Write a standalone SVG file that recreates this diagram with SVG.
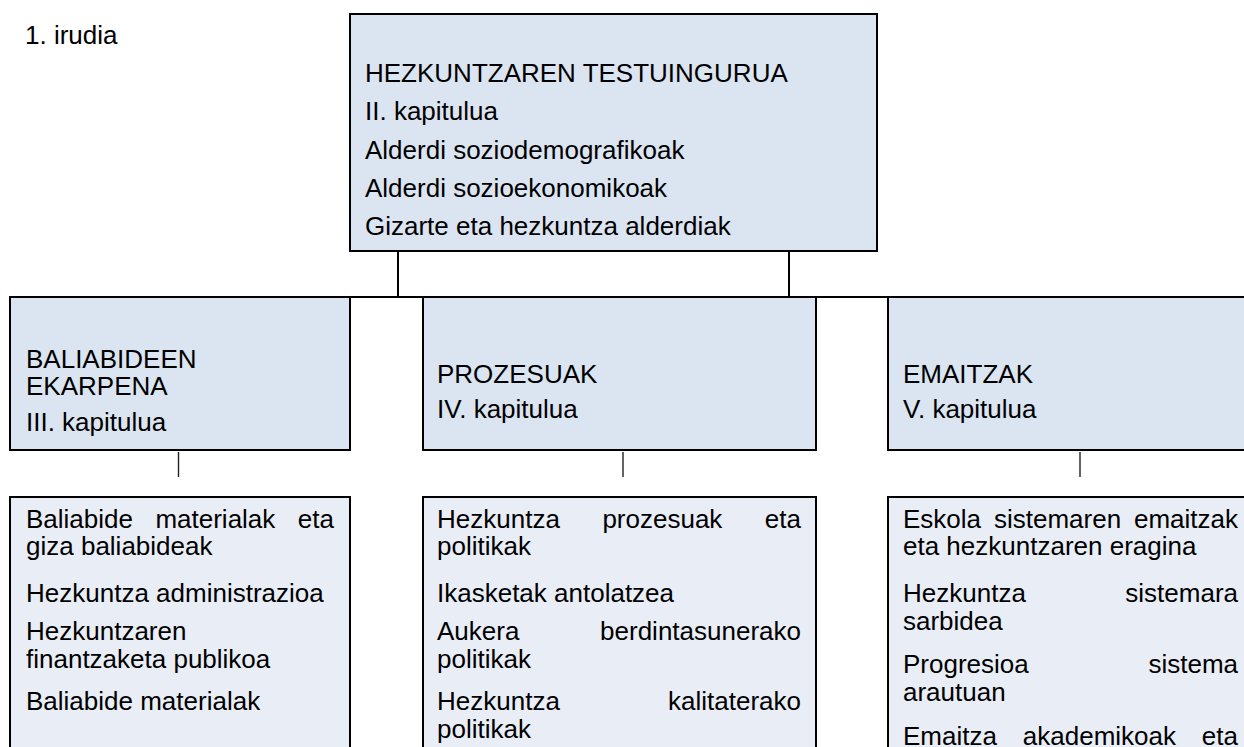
<svg xmlns="http://www.w3.org/2000/svg" width="1244" height="747" viewBox="0 0 1244 747">
<style>
text{font-family:"Liberation Sans",Arial,sans-serif;font-size:26px;fill:#000}
.hb{fill:#DBE5F1;stroke:#000;stroke-width:2}
.lb{fill:#E9EEF6;stroke:#000;stroke-width:2}
.c{stroke:#000;stroke-width:2;fill:none}
.cs{stroke:#222;stroke-width:1.4;fill:none}
.e{text-anchor:end}
</style>
<rect width="1244" height="747" fill="#fff"/>
<text x="25" y="44">1. irudia</text>
<g id="connectors">
<line class="c" x1="398" y1="251" x2="398" y2="297"/>
<line class="c" x1="789" y1="251" x2="789" y2="297"/>
<line class="c" x1="10" y1="297" x2="1250" y2="297"/>
<line class="cs" x1="178.5" y1="452" x2="178.5" y2="477"/>
<line class="cs" x1="623" y1="452" x2="623" y2="477"/>
<line class="cs" x1="1080" y1="452" x2="1080" y2="477"/>
</g>
<g id="node-context">
<rect class="hb" x="350" y="14" width="527" height="237"/>
<text x="365" y="82">HEZKUNTZAREN TESTUINGURUA</text>
<text x="365" y="120">II. kapitulua</text>
<text x="365" y="159">Alderdi soziodemografikoak</text>
<text x="365" y="197">Alderdi sozioekonomikoak</text>
<text x="365" y="235">Gizarte eta hezkuntza alderdiak</text>
</g>
<g id="node-resources">
<rect class="hb" x="10" y="297" width="340" height="153"/>
<text x="26" y="368">BALIABIDEEN</text>
<text x="26" y="395">EKARPENA</text>
<text x="26" y="431">III. kapitulua</text>
</g>
<g id="node-processes">
<rect class="hb" x="423" y="297" width="393" height="153"/>
<text x="437" y="383">PROZESUAK</text>
<text x="437" y="418">IV. kapitulua</text>
</g>
<g id="node-results">
<rect class="hb" x="888" y="297" width="362" height="153"/>
<text x="903" y="383">EMAITZAK</text>
<text x="903" y="418">V. kapitulua</text>
</g>
<g id="node-resources-detail">
<rect class="lb" x="10" y="497" width="340" height="270"/>
<text x="26" y="528">Baliabide</text><text x="155.4" y="528">materialak</text><text class="e" x="334" y="528">eta</text>
<text x="26" y="555">giza baliabideak</text>
<text x="26" y="602">Hezkuntza administrazioa</text>
<text x="26" y="640">Hezkuntzaren</text>
<text x="26" y="668">finantzaketa publikoa</text>
<text x="26" y="710">Baliabide materialak</text>
</g>
<g id="node-processes-detail">
<rect class="lb" x="423" y="497" width="393" height="270"/>
<text x="437" y="528">Hezkuntza</text><text x="602.4" y="528">prozesuak</text><text class="e" x="801" y="528">eta</text>
<text x="437" y="555">politikak</text>
<text x="437" y="602">Ikasketak antolatzea</text>
<text x="437" y="640">Aukera</text><text class="e" x="801" y="640">berdintasunerako</text>
<text x="437" y="668">politikak</text>
<text x="437" y="710">Hezkuntza</text><text class="e" x="801" y="710">kalitaterako</text>
<text x="437" y="738">politikak</text>
</g>
<g id="node-results-detail">
<rect class="lb" x="888" y="497" width="362" height="270"/>
<text x="903" y="528">Eskola</text><text x="994" y="528">sistemaren</text><text class="e" x="1238" y="528">emaitzak</text>
<text x="903" y="555">eta hezkuntzaren eragina</text>
<text x="903" y="602">Hezkuntza</text><text class="e" x="1238" y="602">sistemara</text>
<text x="903" y="630">sarbidea</text>
<text x="903" y="673">Progresioa</text><text class="e" x="1238" y="673">sistema</text>
<text x="903" y="701">arautuan</text>
<text x="903" y="745">Emaitza</text><text x="1022.8" y="745">akademikoak</text><text class="e" x="1238" y="745">eta</text>
</g>
</svg>
